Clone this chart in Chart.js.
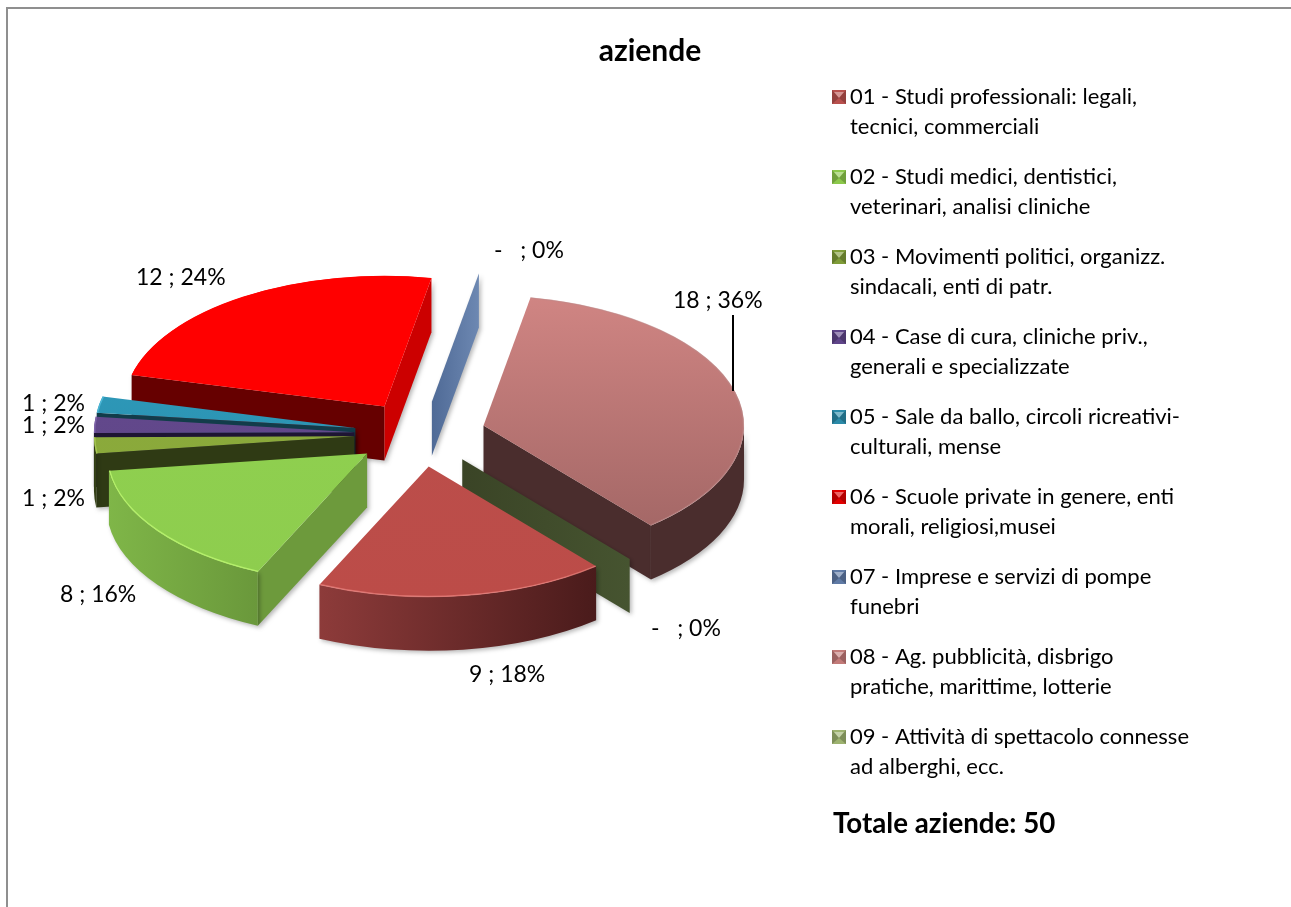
<!DOCTYPE html>
<html lang="it"><head><meta charset="utf-8"><title>aziende</title>
<style>html,body{margin:0;padding:0;background:#fff;overflow:hidden}canvas{display:block}</style>
<script src="https://cdn.jsdelivr.net/npm/chart.js@4"></script></head>
<body><canvas id="c" width="1291" height="907"></canvas>
<script>
const titleText = 'aziende';
const totalLabel = 'Totale aziende: ';
const categories = [
  ['01 - Studi professionali: legali,', 'tecnici, commerciali'],
  ['02 - Studi medici, dentistici,', 'veterinari, analisi cliniche'],
  ['03 - Movimenti politici, organizz.', 'sindacali, enti di patr.'],
  ['04 - Case di cura, cliniche priv.,', 'generali e specializzate'],
  ['05 - Sale da ballo, circoli ricreativi-', 'culturali, mense'],
  ['06 - Scuole private in genere, enti', 'morali, religiosi,musei'],
  ['07 - Imprese e servizi di pompe', 'funebri'],
  ['08 - Ag. pubblicità, disbrigo', 'pratiche, marittime, lotterie'],
  ['09 - Attività di spettacolo connesse', 'ad alberghi, ecc.']
];
const values = [9, 8, 1, 1, 1, 12, 0, 18, 0];
const startRotation = 140;

// styling, by slice: top face gradient, start cut face, end cut face, outer wall gradient
const topColors = [['#bb4f4c','#bc4c48'],['#8fd150','#8ecd4e'],['#8bab3c','#8aa83a'],['#654a90','#5e4585'],['#2f9fc0','#2a8aa8'],['#ff0000','#ff0000'],['#6d88b2','#4f6a96'],['#d08583','#9f6463'],['#465430','#3a4426']];
const startFace = ['#4e1d1d','#6d9a3c','#2f3a14','#1e1533','#123c4a','#660000','#4f6a96','#3f2727','#3a4426'];
const endFace   = ['#8a3a39','#7bb146','#2f3a14','#1e1533','#123c4a','#cc0000','#6d88b2','#4a2d2d','#465430'];
const wallColors = [['#8d3b3a','#4a1b1b'],['#7fb648','#6a983b'],['#2f3a14','#384518'],['#1e1533','#1e1533'],['#123c4a','#123c4a'],['#660000','#660000'],['#4f6a96','#6d88b2'],['#3f2727','#4a2d2d'],['#3a4426','#465430']];
const edgeColors = ['rgba(235,130,125,.7)','#b4ef6a','#a5c652','#7d62a8','#4db7d6','#ff0000','#6d88b2','rgba(190,140,140,.5)','#465430'];
const legendBase = ['#b8504d','#8cc84b','#7f9c38','#5f4589','#2b8aa8','#e00000','#5f7aa5','#c27a78','#9db26f'];

// positions of the data labels, by slice (left x, centre y); leader line of slice 08
const labelX = [469, 60, 22, 22, 22, 136, 494, 673, 651];
const labelY = [675, 595, 499, 426, 404, 278, 251, 301, 629];
const leader = {x: 733, y1: 315, y2: 391};

const CX = 420, CY = 434, TILT = 0.5, EXPLODE = 65.7, DEPTH = 54, RADIUS = 260.5;
const FONT = 'Lato, Carlito, sans-serif';

function icon(i){
  const s = 14, c = document.createElement('canvas'); c.width = c.height = s;
  const g = c.getContext('2d'), m = s/2;
  g.fillStyle = legendBase[i]; g.fillRect(0,0,s,s);
  const tri = (a,b,col)=>{g.fillStyle=col;g.beginPath();g.moveTo(a[0],a[1]);g.lineTo(b[0],b[1]);g.lineTo(m,m+1);g.fill();};
  tri([2,2],[s-2,2],'rgba(255,255,255,.4)');
  tri([0,0],[0,s],'rgba(0,0,0,.2)');
  tri([s,0],[s,s],'rgba(0,0,0,.2)');
  return c;
}
const icons = categories.map((_,i)=>icon(i));

const scene3d = {
  id: 'scene3d',
  beforeDraw(chart){
    const g = chart.ctx;
    g.save(); g.strokeStyle = '#8f8f8f'; g.lineWidth = 2;
    g.strokeRect(7, 8, 1400, 1000); g.restore();
  },
  beforeDatasetsDraw(chart){
    const g = chart.ctx, arcs = chart.getDatasetMeta(0).data;
    const items = arcs.map((arc,i)=>{
      const mid = (arc.startAngle+arc.endAngle)/2;
      return {arc,i,mid,ox:Math.cos(mid)*EXPLODE,oy:Math.sin(mid)*EXPLODE*TILT};
    });
    const order = items.slice().sort((a,b)=>a.oy-b.oy);
    const pt = (it,ang,r)=>[CX+it.ox+Math.cos(ang)*r, CY+it.oy+Math.sin(ang)*r*TILT];
    const quad = (a,b,fill)=>{
      g.fillStyle = fill; g.beginPath();
      g.moveTo(a[0],a[1]); g.lineTo(b[0],b[1]); g.lineTo(b[0],b[1]+DEPTH); g.lineTo(a[0],a[1]+DEPTH);
      g.closePath(); g.fill();
    };
    g.save();
    g.shadowColor = 'rgba(0,0,0,.28)'; g.shadowBlur = 4; g.shadowOffsetX = 2; g.shadowOffsetY = 2;
    for (const it of order){
      const {arc,i} = it, r = arc.outerRadius, a = arc.startAngle, b = arc.endAngle;
      const cenA = pt(it,a,0), ea = pt(it,a,r), eb = pt(it,b,r);
      if (b-a < 1e-6){
        const gr = g.createLinearGradient(Math.min(cenA[0],ea[0]),0,Math.max(cenA[0],ea[0]),0);
        gr.addColorStop(0,wallColors[i][0]); gr.addColorStop(1,wallColors[i][1]);
        quad(cenA,ea,gr);
        continue;
      }
      if (Math.cos(a) < 0) quad(cenA,ea,startFace[i]);
      if (Math.cos(b) > 0) quad(cenA,eb,endFace[i]);
      for (const k of [-2*Math.PI, 0, 2*Math.PI]){
        const lo = Math.max(a,k), hi = Math.min(b,k+Math.PI);
        if (hi <= lo) continue;
        const gr = g.createLinearGradient(Math.min(ea[0],eb[0]),0,Math.max(ea[0],eb[0]),0);
        gr.addColorStop(0,wallColors[i][0]); gr.addColorStop(1,wallColors[i][1]);
        g.fillStyle = gr; g.beginPath();
        g.ellipse(cenA[0],cenA[1],r,r*TILT,0,lo,hi,false);
        g.ellipse(cenA[0],cenA[1]+DEPTH,r,r*TILT,0,hi,lo,true);
        g.closePath(); g.fill();
      }
    }
    g.restore();
    for (const it of items){
      const {arc,i} = it;
      if (arc.endAngle-arc.startAngle < 1e-6) continue;
      g.save();
      g.translate(CX+it.ox, CY+it.oy); g.scale(1,TILT); g.translate(-arc.x,-arc.y);
      arc.draw(g);
      g.restore();
      g.save();
      g.strokeStyle = edgeColors[i]; g.lineWidth = 1.4;
      g.beginPath();
      g.ellipse(CX+it.ox,CY+it.oy,arc.outerRadius-.7,(arc.outerRadius-.7)*TILT,0,arc.startAngle,arc.endAngle,false);
      g.stroke(); g.restore();
    }
    return false;
  },
  afterDraw(chart){
    const g = chart.ctx, total = values.reduce((s,v)=>s+v,0);
    g.save();
    g.fillStyle = '#000'; g.textBaseline = 'middle'; g.textAlign = 'left';
    g.font = '23px '+FONT;
    values.forEach((v,i)=>{
      const pct = Math.round(v/total*100);
      g.fillText((v===0 ? '-  ' : v)+' ; '+pct+'%', labelX[i], labelY[i]);
    });
    g.strokeStyle='#000'; g.lineWidth=2;
    g.beginPath(); g.moveTo(leader.x,leader.y1); g.lineTo(leader.x,leader.y2); g.stroke();
    g.font = 'bold 27.7px '+FONT;
    g.fillText(totalLabel+total, 833, 824);
    g.restore();
  }
};

new Chart(document.getElementById('c'), {
  type: 'pie',
  plugins: [scene3d],
  data: {
    labels: categories.map(l=>l.join(' ')),
    datasets: [{
      data: values,
      borderWidth: 0,
      hoverOffset: 0,
      backgroundColor(c){
        const ch = c.chart, i = c.dataIndex;
        if (!ch.chartArea || i === undefined) return topColors[i||0][0];
        const y = (ch.chartArea.top+ch.chartArea.bottom)/2;
        const gr = ch.ctx.createLinearGradient(0,y-RADIUS,0,y+RADIUS);
        gr.addColorStop(0,topColors[i][0]); gr.addColorStop(1,topColors[i][1]);
        return gr;
      }
    }]
  },
  options: {
    responsive: false,
    animation: false,
    events: [],
    rotation: startRotation,
    radius: RADIUS,
    layout: {padding: {left: 101, right: 92, top: 0, bottom: 0}},
    plugins: {
      tooltip: {enabled: false},
      title: {display: true, text: titleText, color: '#000',
        font: {family: FONT, size: 30, weight: 'bold', lineHeight: 1},
        padding: {top: 36, bottom: 0}},
      legend: {
        position: 'right', align: 'start', fullSize: false,
        labels: {
          color: '#000', padding: 20, usePointStyle: true, pointStyleWidth: 0.01, boxHeight: 14,
          font: {family: FONT, size: 22, lineHeight: 1.3636},
          generateLabels: () => categories.map((lines,i)=>({
            text: lines, fontColor: '#000', pointStyle: icons[i], hidden: false,
            lineWidth: 0, strokeStyle: 'transparent', fillStyle: legendBase[i], index: i
          }))
        }
      }
    }
  }
});
</script></body></html>
